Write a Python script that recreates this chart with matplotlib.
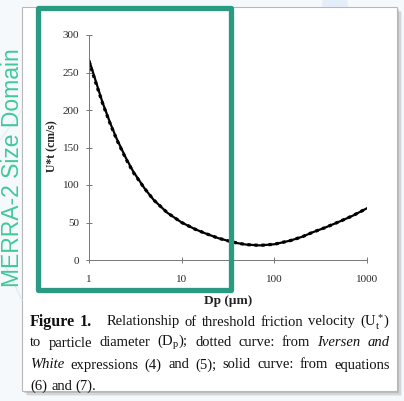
import matplotlib
matplotlib.use("Agg")
import matplotlib.pyplot as plt
from matplotlib.patches import Rectangle, Circle
from matplotlib.lines import Line2D

# values
dp = [1, 1.2, 1.4, 1.7, 2, 2.5, 3, 4, 5, 7, 10, 14, 18, 25, 33, 40, 50, 70,
      100, 150, 200, 260, 350, 500, 700, 1000]
u_solid = [267, 236, 210, 182, 161, 136, 118, 95, 80, 63, 50, 41, 35.5, 29, 25,
           22.5, 20.5, 19.5, 21, 26, 31, 37, 43, 51, 59, 69]
u_dotted = [265, 234, 209, 181, 160, 135, 117, 95, 80, 63, 50, 41, 35.5, 29, 25,
            22.5, 20.5, 19.5, 21, 26, 31, 37, 43, 51, 59, 69]
xticks = [1, 10, 100, 1000]
xticklabels = ["1", "10", "100", "1000"]
yticks = [0, 50, 100, 150, 200, 250, 300]

plt.rcParams["mathtext.fontset"] = "custom"
plt.rcParams["mathtext.rm"] = "Liberation Serif"
plt.rcParams["mathtext.it"] = "Liberation Serif:italic"
plt.rcParams["mathtext.bf"] = "Liberation Serif:bold"

W, H = 404, 401
fig = plt.figure(figsize=(W / 100, H / 100), dpi=100)
fig.patch.set_facecolor("#f6f9fc")


def fx(px):
    return px / W


def fy(py):
    return 1 - py / H


# faint background decoration
fig.add_artist(Line2D([fx(0), fx(22)], [fy(255), fy(300)], color="#dce8f3", lw=0.8))
fig.add_artist(Line2D([fx(0), fx(22)], [fy(140), fy(110)], color="#e3edf6", lw=0.8))
fig.add_artist(Circle((fx(335), fy(4)), 0.03, transform=fig.transFigure,
                      color="#e3eef8", zorder=0))

# card with shadow
for i, a in enumerate([0.10, 0.16, 0.25]):
    off = 5 - i * 1.5
    fig.add_artist(Rectangle((fx(22 + off), fy(391 + off)), fx(375), 384 / H,
                             transform=fig.transFigure, facecolor="#707070",
                             edgecolor="none", alpha=a, zorder=0.5))
fig.add_artist(Rectangle((fx(22), fy(391)), fx(375), 384 / H,
                         transform=fig.transFigure, facecolor="white",
                         edgecolor="#b8b8b8", lw=0.8, zorder=0.6))

ax = fig.add_axes([fx(89), fy(260), fx(367 - 89), 225 / H])
ax.set_zorder(1)
ax.patch.set_alpha(0)
ax.set_xscale("log")
ax.set_xlim(1, 1000)
ax.set_ylim(0, 300)

ax.plot(dp, u_solid, color="black", lw=1.6, solid_capstyle="round")
ax.plot(dp, u_dotted, color="black", lw=2.3, ls=(0, (1, 1.2)))

for s in ["top", "right"]:
    ax.spines[s].set_visible(False)
for s in ["left", "bottom"]:
    ax.spines[s].set_color("#777777")
    ax.spines[s].set_linewidth(0.7)

ax.set_xticks(xticks)
ax.set_xticklabels(xticklabels)
ax.xaxis.set_minor_locator(matplotlib.ticker.NullLocator())
ax.set_yticks(yticks)
ax.tick_params(direction="inout", length=4, width=0.7, color="#777777",
               labelsize=8, labelcolor="#2a2a2a")
ax.tick_params(axis="x", pad=9)
ax.tick_params(axis="y", pad=5)
for lab in ax.get_xticklabels() + ax.get_yticklabels():
    lab.set_fontfamily("Liberation Serif")

fig.text(fx(52), fy(146), "U*t (cm/s)", rotation=90, ha="center", va="center",
         fontsize=8.5, fontweight="bold", family="Liberation Serif", color="#222222")
fig.text(fx(228), fy(301), "Dp (\u00b5m)", ha="center", va="center",
         fontsize=9.5, fontweight="bold", family="Liberation Serif", color="#222222")

# green box marking the MERRA-2 domain
fig.add_artist(Rectangle((fx(37.5), fy(289.5)), fx(193), 282 / H,
                         transform=fig.transFigure, facecolor="none",
                         edgecolor="#2a9a83", lw=3.8, zorder=5,
                         joinstyle="round"))
fig.text(fx(13), fy(168), "MERRA-2 Size Domain", rotation=90, ha="center",
         va="center", fontsize=16.5, family="Liberation Sans", color="#42c89b")

# caption, justified word by word
caption = [
    [("Figure", "bold"), ("1.", "bold"), ("Relationship", "n"), ("of", "n"),
     ("threshold", "n"), ("friction", "n"), ("velocity", "n"),
     (r"($\mathregular{U_t^*}$)", "n")],
    [("to", "n"), ("particle", "n"), ("diameter", "n"),
     (r"($\mathregular{D_p}$);", "n"), ("dotted", "n"), ("curve:", "n"),
     ("from", "n"), ("Iversen", "it"), ("and", "it")],
    [("White", "it"), ("expressions", "n"), ("(4)", "n"), ("and", "n"),
     ("(5);", "n"), ("solid", "n"), ("curve:", "n"), ("from", "n"),
     ("equations", "n")],
    [("(6)", "n"), ("and", "n"), ("(7).", "n")],
]
line_y = [322, 343, 365, 386]
x0, x1 = 30, 390
renderer = fig.canvas.get_renderer()
for li, words in enumerate(caption):
    arts = []
    for txt, sty in words:
        kw = dict(fontsize=10.5, family="Liberation Serif", color="#111111",
                  va="center", ha="left")
        if sty == "bold":
            kw["fontweight"] = "bold"
            kw["fontsize"] = 11.5
        if sty == "it":
            kw["fontstyle"] = "italic"
        arts.append(fig.text(0, fy(line_y[li]), txt, **kw))
    widths = [a.get_window_extent(renderer).width for a in arts]
    extra = [0] * len(arts)
    if li == 0:
        extra[1] = 10  # wider space after "Figure 1."
    if li < 3:
        gap = (x1 - x0 - sum(widths) - sum(extra)) / (len(arts) - 1)
    else:
        gap = 4
    x = x0
    for a, w, e in zip(arts, widths, extra):
        a.set_x(fx(x))
        x += w + gap + e

fig.savefig("out.png", dpi=100, facecolor=fig.get_facecolor())
